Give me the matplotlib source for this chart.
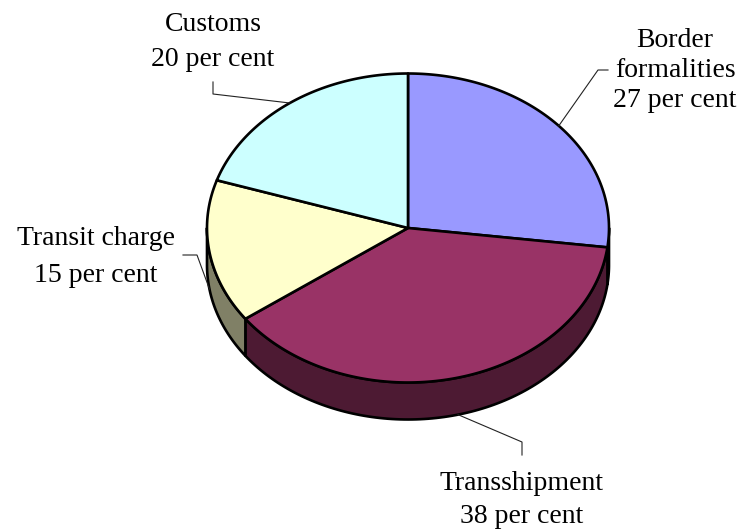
import numpy as np
import matplotlib
matplotlib.use('Agg')
import matplotlib.pyplot as plt
from matplotlib.patches import Polygon

# slices, clockwise from twelve o'clock
labels = ['Border\nformalities', 'Transshipment', 'Transit charge', 'Customs']
shares = [27, 38, 15, 20]
top_colors = ['#9999FF', '#993366', '#FFFFCC', '#CCFFFF']
side_colors = ['#4D4D80', '#4D1A33', '#808066', '#668080']

cx, cy = 408, 228
rx, ry = 201, 154.5
depth = 37


def pt(deg, dz=0.0):
    t = np.radians(deg)
    return cx + rx * np.cos(t), cy - ry * np.sin(t) + dz


def arc(a, b, dz=0.0, n=120):
    t = np.linspace(a, b, n)
    return [pt(d, dz) for d in t]


fig = plt.figure(figsize=(7.47, 5.31), dpi=100)
ax = fig.add_axes([0, 0, 1, 1])
ax.set_xlim(0, 747)
ax.set_ylim(531, 0)
ax.axis('off')

frac = np.array(shares, dtype=float) / sum(shares)
ends = 90 - 360 * np.cumsum(frac)
starts = np.concatenate([[90], ends[:-1]])
mids = (starts + ends) / 2

# visible side walls (front half)
for s, e, c in zip(starts, ends, side_colors):
    hi = min(s, 0)
    lo = max(e, -180)
    if hi <= lo:
        continue
    pts = arc(hi, lo) + arc(lo, hi, depth)
    ax.add_patch(Polygon(pts, closed=True, facecolor=c, edgecolor='black',
                         lw=1.9, joinstyle='round'))

# top faces
for s, e, c in zip(starts, ends, top_colors):
    pts = [(cx, cy)] + arc(s, e)
    ax.add_patch(Polygon(pts, closed=True, facecolor=c, edgecolor='black',
                         lw=1.9, joinstyle='round'))

# labels with leader lines
font = dict(family='Liberation Serif', fontsize=20, color='black')


def label(text, x, y0, step=33):
    for k, line in enumerate(text.split('\n')):
        ax.text(x, y0 + k * step, line, ha='center', va='baseline', **font)


lc = dict(color='#222222', lw=0.8)

# Border formalities
ax0, ay0 = pt(mids[0])
ax.plot([608, 598, ax0], [70, 70, ay0], **lc)
label('Border\nformalities\n' + f'{shares[0]} per cent', 675, 47, 30)

# Transshipment
ax1, ay1 = pt(mids[1], depth)
ax.plot([ax1, 522, 522], [ay1, 442, 455], **lc)
label(labels[1] + '\n' + f'{shares[1]} per cent', 522, 490, 33)

# Transit charge
ax2, ay2 = pt(mids[2], depth)
ax.plot([183, 197, ax2], [255, 255, ay2], **lc)
label(labels[2] + '\n' + f'{shares[2]} per cent', 96, 245, 37)

# Customs
ax3, ay3 = pt(mids[3])
ax.plot([213, 213, ax3], [82, 94, ay3], **lc)
label(labels[3] + '\n' + f'{shares[3]} per cent', 213, 31, 35)

fig.savefig('out.png', dpi=100)
